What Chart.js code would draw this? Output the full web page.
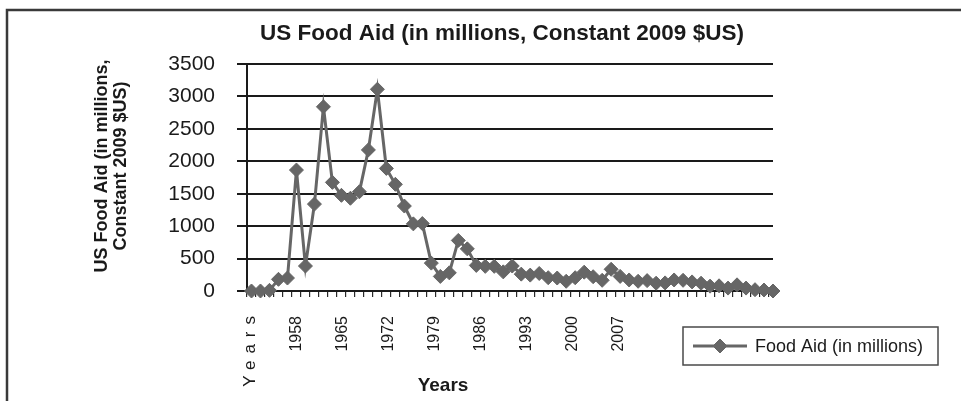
<!DOCTYPE html>
<html>
<head>
<meta charset="utf-8">
<script src="https://cdn.jsdelivr.net/npm/chart.js@4/dist/chart.umd.min.js"></script>
<style>
  html, body { margin: 0; padding: 0; background: #fff; overflow: hidden; }
  canvas { display: block; }
</style>
</head>
<body>
<canvas id="chart" width="961" height="401"></canvas>
<script>
// US food aid, millions of constant 2009 dollars, one value per year
const seriesName = 'Food Aid (in millions)';
const foodAid = [
  0, 0, 10, 180, 200, 1865, 385, 1340, 2840, 1675,
  1475, 1430, 1530, 2175, 3110, 1890, 1645, 1310, 1035, 1040,
  430, 225, 280, 780, 650, 395, 380, 380, 295, 385,
  260, 245, 270, 205, 200, 150, 205, 290, 220, 165,
  335, 225, 170, 150, 160, 120, 125, 170, 165, 140,
  120, 75, 80, 45, 95, 45, 20, 15, 0
];

// Category labels printed under the axis (one every seventh slot);
// the first one is the column header of the category range
const tickLabels = ['Years', '1958', '1965', '1972', '1979', '1986', '1993', '2000', '2007'];
const labelSlots = 80;
const labelEvery = 7;

const chartTitle = 'US Food Aid (in millions, Constant 2009 $US)';
const yTitle = ['US Food Aid (in millions,', 'Constant 2009 $US)'];
const xTitle = 'Years';

const yTicks = [0, 500, 1000, 1500, 2000, 2500, 3000, 3500];

const FONT = '"Liberation Sans", Arial, Helvetica, sans-serif';
const NARROW = '"Liberation Sans Narrow", "Arial Narrow", "Liberation Sans", Arial, sans-serif';
const LINE_GREY = '#666666';
const INK = '#1a1a1a';
const X_LABEL_SIZE = 16;
const X_LABEL_PAD = 19;

// slot 0 holds the header, drawn separately with wide letter spacing
const slotLabels = Array.from({ length: labelSlots }, (_, i) =>
  i > 0 && i % labelEvery === 0 && tickLabels[i / labelEvery] !== undefined ? tickLabels[i / labelEvery] : ''
);

// Frame around the figure, axis titles, header label and the boxed legend
const frameAndNotes = {
  id: 'frameAndNotes',
  beforeDraw(chart) {
    const { ctx, width, height } = chart;
    ctx.save();
    ctx.fillStyle = '#ffffff';
    ctx.fillRect(0, 0, width, height);
    ctx.strokeStyle = '#3a3a3a';
    ctx.lineWidth = 2.5;
    ctx.beginPath();
    ctx.moveTo(7, height + 2);
    ctx.lineTo(7, 10);
    ctx.lineTo(width + 2, 10);
    ctx.stroke();
    ctx.restore();
  },
  afterDraw(chart) {
    const { ctx } = chart;
    const ds = chart.data.datasets[0];
    ctx.save();
    ctx.fillStyle = INK;
    ctx.textAlign = 'center';
    ctx.textBaseline = 'middle';

    // vertical axis title, two lines
    ctx.font = 'bold 18px ' + FONT;
    ctx.save();
    ctx.translate(112, 166);
    ctx.rotate(-Math.PI / 2);
    yTitle.forEach((line, i) => ctx.fillText(line, 0, (i - (yTitle.length - 1) / 2) * 19));
    ctx.restore();

    // header of the category labels, letter-spaced
    const xl = chart.scales.xl;
    const spacing = 7;
    ctx.save();
    ctx.translate(xl.getPixelForTick(0), xl.top + X_LABEL_PAD);
    ctx.rotate(-Math.PI / 2);
    ctx.font = '17px ' + FONT;
    ctx.letterSpacing = spacing + 'px';
    ctx.textAlign = 'right';
    ctx.fillText(tickLabels[0], spacing, 0);
    ctx.restore();

    // horizontal axis title
    ctx.font = 'bold 19px ' + FONT;
    ctx.fillText(xTitle, 443, 386);

    // legend box
    const bx = 683, by = 327, bw = 255, bh = 38;
    const cy = by + bh / 2;
    ctx.strokeStyle = '#4a4a4a';
    ctx.lineWidth = 1.5;
    ctx.strokeRect(bx, by, bw, bh);
    ctx.strokeStyle = ds.borderColor;
    ctx.lineWidth = ds.borderWidth;
    ctx.beginPath();
    ctx.moveTo(693, cy);
    ctx.lineTo(747, cy);
    ctx.stroke();
    ctx.fillStyle = ds.pointBackgroundColor;
    ctx.strokeStyle = ds.pointBorderColor;
    ctx.lineWidth = ds.pointBorderWidth;
    Chart.helpers.drawPoint(ctx, { pointStyle: ds.pointStyle, radius: ds.pointRadius, rotation: 0, borderWidth: ds.pointBorderWidth }, 720, cy);
    ctx.fillStyle = INK;
    ctx.textAlign = 'left';
    ctx.font = '18px ' + FONT;
    ctx.fillText(ds.label, 755, cy + 1);
    ctx.restore();
  }
};

new Chart(document.getElementById('chart'), {
  type: 'line',
  data: {
    datasets: [{
      label: seriesName,
      data: foodAid.map((v, i) => ({ x: i, y: v })),
      xAxisID: 'x',
      yAxisID: 'y',
      borderColor: LINE_GREY,
      borderWidth: 3,
      pointStyle: 'rectRot',
      pointRadius: 7,
      pointBackgroundColor: LINE_GREY,
      pointBorderColor: LINE_GREY,
      pointBorderWidth: 1,
      tension: 0,
      clip: false
    }]
  },
  options: {
    responsive: false,
    animation: false,
    events: [],
    layout: { autoPadding: false, padding: { left: 43, right: 0, top: 8, bottom: 0 } },
    plugins: {
      legend: { display: false },
      tooltip: { enabled: false },
      title: {
        display: true,
        text: chartTitle,
        color: INK,
        font: { family: FONT, size: 22.5, weight: 'bold', lineHeight: 1.2 },
        padding: { top: 12, bottom: 17 }
      }
    },
    scales: {
      y: {
        position: 'left',
        min: 0,
        max: 3500,
        afterBuildTicks: (s) => { s.ticks = yTicks.map(v => ({ value: v })); },
        afterFit: (s) => { s.width = 204; },
        grid: { color: INK, lineWidth: 2, drawTicks: true, tickLength: 10 },
        border: { display: true, color: INK, width: 2 },
        ticks: { color: INK, padding: 22, font: { family: FONT, size: 21 }, callback: (v) => String(v) }
      },
      // empty strip on the right that keeps the plot clear of the legend column
      yr: {
        type: 'linear',
        position: 'right',
        display: true,
        afterFit: (s) => { s.width = 188; },
        grid: { display: false, drawTicks: false },
        border: { display: false },
        ticks: { display: false }
      },
      x: {
        type: 'linear',
        position: 'bottom',
        weight: 0,
        min: -0.5,
        max: foodAid.length - 1,
        afterBuildTicks: (s) => {
          s.ticks = foodAid.map((_, i) => ({ value: i - 0.5 }));
        },
        afterFit: (s) => { s.height = 6; },
        grid: { drawOnChartArea: false, drawTicks: true, tickLength: 6, color: '#2a2a2a', lineWidth: 1.2 },
        border: { display: true, color: INK, width: 2 },
        ticks: { display: false }
      },
      xl: {
        type: 'category',
        position: 'bottom',
        weight: 1,
        offset: true,
        labels: slotLabels,
        afterFit: (s) => { s.height = 104; },
        grid: { display: false, drawTicks: false },
        border: { display: false },
        ticks: {
          autoSkip: false,
          minRotation: 90,
          maxRotation: 90,
          padding: X_LABEL_PAD,
          color: INK,
          font: { family: NARROW, size: X_LABEL_SIZE }
        }
      }
    }
  },
  plugins: [frameAndNotes]
});
</script>
</body>
</html>
